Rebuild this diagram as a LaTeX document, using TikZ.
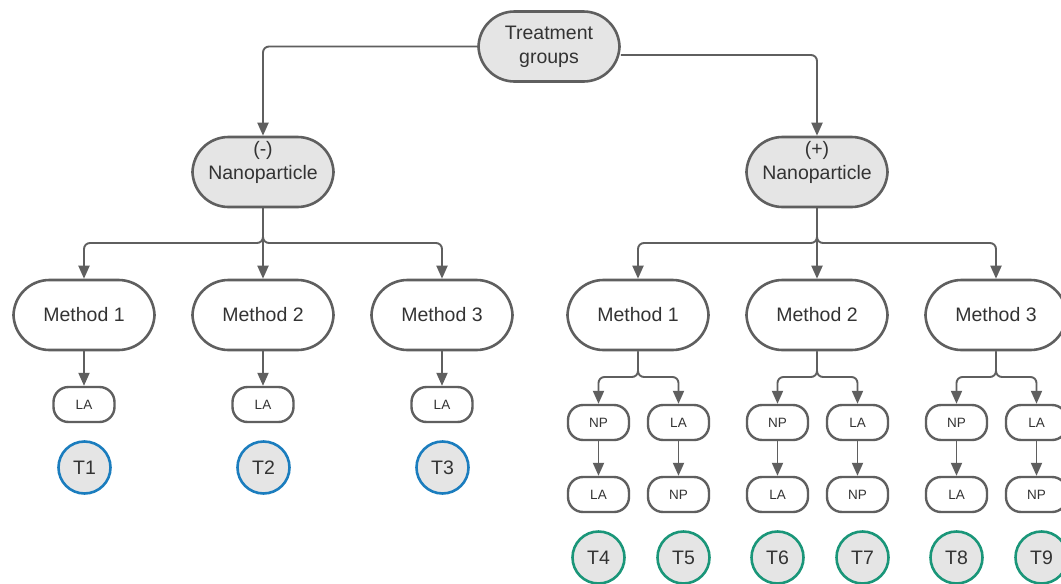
\documentclass[tikz,border=0pt]{standalone}
\usepackage{fontspec}
\setmainfont{Liberation Sans}
\usetikzlibrary{arrows.meta}
\definecolor{ln}{HTML}{5F5F5F}
\definecolor{tx}{HTML}{333333}
\definecolor{gf}{HTML}{E5E5E5}
\definecolor{bl}{HTML}{1B7DBE}
\definecolor{gr}{HTML}{1A9679}
\tikzset{
  big/.style={draw=ln, line width=2.6pt, rectangle, rounded corners=36pt, minimum width=141pt, minimum height=70pt, text=tx, align=center, inner sep=0pt, font=\fontsize{19.5}{24}\selectfont},
  graybig/.style={big, fill=gf},
  whitebig/.style={big, fill=white},
  bigtext/.style={text=tx, align=center, inner sep=0pt, font=\fontsize{19.5}{24}\selectfont},
  small/.style={draw=ln, line width=2.4pt, rectangle, rounded corners=15pt, minimum width=61pt, minimum height=35pt, fill=white, text=tx, inner sep=0pt, font=\fontsize{13.5}{16}\selectfont},
  tcirc/.style={draw, line width=2.6pt, circle, minimum size=52pt, fill=gf, text=tx, inner sep=0pt, font=\fontsize{19.5}{24}\selectfont},
  tb/.style={tcirc, draw=bl},
  tg/.style={tcirc, draw=gr},
  arr/.style={draw=ln, line width=1.9pt, rounded corners=6pt, -{Triangle[width=11pt,length=13pt]}},
}
\begin{document}
\begin{tikzpicture}[x=1pt,y=-1pt]
\useasboundingbox[fill=white] (0,0) rectangle (1061,584);
% top
\node[graybig] (tg) at (549,46.5) {Treatment\\groups};
\node[graybig] (nm) at (263,172) {};
\node[bigtext] (nmt) at (263,162) {(-)\\Nanoparticle};
\node[graybig] (npp) at (817,172) {};
\node[bigtext] (nppt) at (817,162) {(+)\\Nanoparticle};
\draw[arr] (tg.west) -| (nm.north);
\draw[arr] ([yshift=-8.5pt]tg.east) -| (npp.north);
% left methods
\node[whitebig] (lm1) at (84,315) {Method 1};
\node[whitebig] (lm2) at (263,315) {Method 2};
\node[whitebig] (lm3) at (442,315) {Method 3};
\coordinate (jl) at (263,243);
\draw[arr] (nm.south) -- (jl) -| (lm1.north);
\draw[arr] (nm.south) -- (jl) -| (lm3.north);
\draw[arr] (nm.south) -- (lm2.north);
% right methods
\node[whitebig] (rm1) at (638,315) {Method 1};
\node[whitebig] (rm2) at (817,315) {Method 2};
\node[whitebig] (rm3) at (996,315) {Method 3};
\coordinate (jr) at (817,243);
\draw[arr] (npp.south) -- (jr) -| (rm1.north);
\draw[arr] (npp.south) -- (jr) -| (rm3.north);
\draw[arr] (npp.south) -- (rm2.north);
% left LA + T
\node[small] (la1) at (84,404.5) {LA};
\node[small] (la2) at (263,404.5) {LA};
\node[small] (la3) at (442,404.5) {LA};
\draw[arr] (lm1.south) -- (la1.north);
\draw[arr] (lm2.south) -- (la2.north);
\draw[arr] (lm3.south) -- (la3.north);
\node[tb] (t1) at (84.5,467.5) {T1};
\node[tb] (t2) at (263.5,467.5) {T2};
\node[tb] (t3) at (442.5,467.5) {T3};
% right branches
\foreach \m/\c/\a/\b in {rm1/638/a/b, rm2/817/c/d, rm3/996/e/f}{
  \coordinate (j\a) at (\c,377);
  \node[small] (u\a) at (\c-39.5,422.5) {NP};
  \node[small] (u\b) at (\c+40.5,422.5) {LA};
  \node[small] (l\a) at (\c-39.5,494.5) {LA};
  \node[small] (l\b) at (\c+40.5,494.5) {NP};
  \draw[arr] (\m.south) -- (j\a) -| (u\a.north);
  \draw[arr] (\m.south) -- (j\a) -| (u\b.north);
  \draw[arr] (u\a.south) -- (l\a.north);
  \draw[arr] (u\b.south) -- (l\b.north);
}
\node[tg] (t4) at (598.5,557.5) {T4};
\node[tg] (t5) at (683.5,557.5) {T5};
\node[tg] (t6) at (777.5,557.5) {T6};
\node[tg] (t7) at (862.5,557.5) {T7};
\node[tg] (t8) at (956.5,557.5) {T8};
\node[tg] (t9) at (1041.5,557.5) {T9};
\end{tikzpicture}
\end{document}
